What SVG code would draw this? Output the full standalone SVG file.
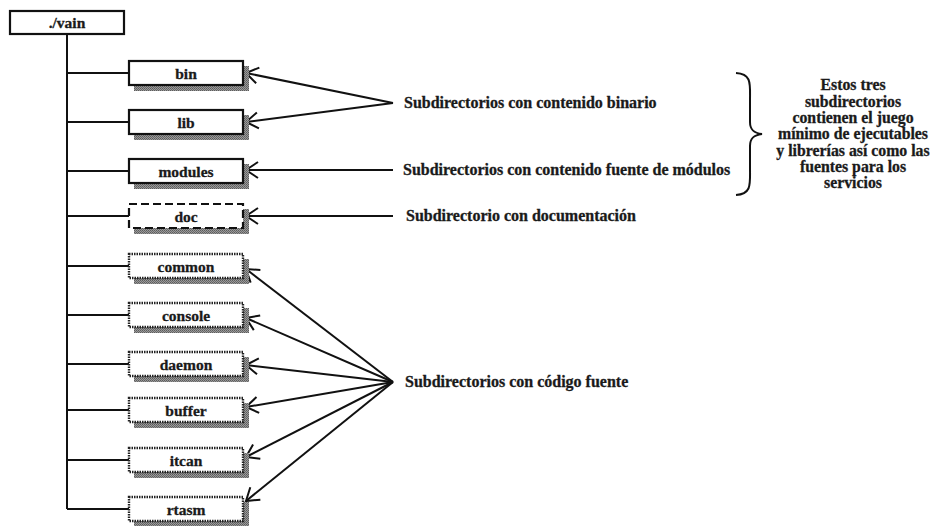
<svg xmlns="http://www.w3.org/2000/svg" width="933" height="526" viewBox="0 0 933 526">
  <style>
    .lbl { font-family: "Liberation Serif", "Times New Roman", serif; font-weight: bold; font-size: 16px; fill: #1a1a1a; stroke: #1a1a1a; stroke-width: 0.3; }
    .nt { font-family: "Liberation Serif", "Times New Roman", serif; font-weight: bold; font-size: 15.5px; fill: #1a1a1a; stroke: #1a1a1a; stroke-width: 0.3; text-anchor: middle; }
    .note { font-family: "Liberation Serif", "Times New Roman", serif; font-weight: bold; font-size: 15.8px; fill: #1a1a1a; stroke: #1a1a1a; stroke-width: 0.3; text-anchor: middle; }
    .box { fill: #ffffff; stroke: #111; stroke-width: 2.2; }
    .dash { fill: #ffffff; stroke: #111; stroke-width: 2.2; stroke-dasharray: 8 4; }
    .dot { fill: #ffffff; stroke: #222; stroke-width: 2.4; stroke-dasharray: 1.5 1; }
    .shadow { fill: url(#stipple); }
    .tree { fill: none; stroke: #111; stroke-width: 2; }
    .arr { fill: none; stroke: #111; stroke-width: 2; marker-end: url(#open); }
  </style>
  <defs>
    <pattern id="stipple" width="2" height="2" patternUnits="userSpaceOnUse">
      <rect width="2" height="2" fill="#9a9a9a"/>
      <rect width="1" height="1" fill="#5c5c5c"/>
      <rect x="1" y="1" width="1" height="1" fill="#6a6a6a"/>
    </pattern>
    <marker id="open" markerUnits="userSpaceOnUse" markerWidth="20" markerHeight="20" refX="0" refY="0" viewBox="-14 -10 16 20" orient="auto" overflow="visible">
      <path d="M-12,-8 L0,0 L-12,8" fill="none" stroke="#111" stroke-width="2"/>
    </marker>
  </defs>

  <rect width="933" height="526" fill="#ffffff"/>

  <!-- tree trunk and branches -->
  <g id="connectors">
    <path class="tree" d="M67,34 V509 M67,73 H129 M67,122 H129 M67,171 H129 M67,216 H129 M67,266 H129 M67,315 H129 M67,364 H129 M67,410 H129 M67,460 H129 M67,509 H129"/>
    <!-- annotation arrows -->
    <line class="arr" x1="393" y1="103" x2="246" y2="73"/>
    <line class="arr" x1="393" y1="103" x2="246" y2="122"/>
    <line class="arr" x1="393" y1="170" x2="246" y2="170"/>
    <line class="arr" x1="393" y1="216" x2="246" y2="216"/>
    <line class="arr" x1="393" y1="382" x2="246" y2="269"/>
    <line class="arr" x1="393" y1="382" x2="246" y2="318"/>
    <line class="arr" x1="393" y1="382" x2="246" y2="365"/>
    <line class="arr" x1="393" y1="382" x2="246" y2="407"/>
    <line class="arr" x1="393" y1="382" x2="246" y2="457"/>
    <line class="arr" x1="393" y1="382" x2="246" y2="501"/>
    <!-- brace -->
    <path d="M736,73 C752,74 750,84 750,100 L750,122 C750,130 754,133 762,134 C754,135 750,138 750,146 L750,168 C750,184 752,194 736,195" fill="none" stroke="#111" stroke-width="2"/>
  </g>

  <g id="root">
    <rect class="box" x="10" y="11" width="114" height="23"/>
    <text class="nt" x="67" y="28">./vain</text>
  </g>

  <g id="bin">
    <rect class="shadow" x="134" y="66" width="115" height="25"/>
    <rect class="box" x="129" y="61" width="114" height="24"/>
    <text class="nt" x="186" y="78.5">bin</text>
  </g>
  <g id="lib">
    <rect class="shadow" x="134" y="115" width="115" height="25"/>
    <rect class="box" x="129" y="110" width="114" height="24"/>
    <text class="nt" x="186" y="127.5">lib</text>
  </g>
  <g id="modules">
    <rect class="shadow" x="134" y="164" width="115" height="25"/>
    <rect class="box" x="129" y="159" width="114" height="24"/>
    <text class="nt" x="186" y="176.5">modules</text>
  </g>
  <g id="doc">
    <rect class="shadow" x="134" y="209" width="115" height="25"/>
    <rect class="dash" x="129" y="204" width="114" height="24"/>
    <text class="nt" x="186" y="221.5">doc</text>
  </g>
  <g id="common">
    <rect class="shadow" x="134" y="259" width="115" height="25"/>
    <rect class="dot" x="129" y="254" width="114" height="24"/>
    <text class="nt" x="186" y="271.5">common</text>
  </g>
  <g id="console">
    <rect class="shadow" x="134" y="308" width="115" height="25"/>
    <rect class="dot" x="129" y="303" width="114" height="24"/>
    <text class="nt" x="186" y="320.5">console</text>
  </g>
  <g id="daemon">
    <rect class="shadow" x="134" y="357" width="115" height="25"/>
    <rect class="dot" x="129" y="352" width="114" height="24"/>
    <text class="nt" x="186" y="369.5">daemon</text>
  </g>
  <g id="buffer">
    <rect class="shadow" x="134" y="403" width="115" height="25"/>
    <rect class="dot" x="129" y="398" width="114" height="24"/>
    <text class="nt" x="186" y="415.5">buffer</text>
  </g>
  <g id="itcan">
    <rect class="shadow" x="134" y="453" width="115" height="25"/>
    <rect class="dot" x="129" y="448" width="114" height="24"/>
    <text class="nt" x="186" y="465.5">itcan</text>
  </g>
  <g id="rtasm">
    <rect class="shadow" x="134" y="502" width="115" height="25"/>
    <rect class="dot" x="129" y="497" width="114" height="24"/>
    <text class="nt" x="186" y="514.5">rtasm</text>
  </g>

  <g id="labels">
    <text class="lbl" x="404" y="108">Subdirectorios con contenido binario</text>
    <text class="lbl" x="403" y="175">Subdirectorios con contenido fuente de módulos</text>
    <text class="lbl" x="406" y="221">Subdirectorio con documentación</text>
    <text class="lbl" x="405" y="387">Subdirectorios con código fuente</text>
  </g>

  <g id="note">
    <text class="note" x="853" y="90">Estos tres</text>
    <text class="note" x="853" y="107">subdirectorios</text>
    <text class="note" x="853" y="123">contienen el juego</text>
    <text class="note" x="853" y="139">mínimo de ejecutables</text>
    <text class="note" x="853" y="156">y librerías así como las</text>
    <text class="note" x="853" y="172">fuentes para los</text>
    <text class="note" x="853" y="188">servicios</text>
  </g>
</svg>
